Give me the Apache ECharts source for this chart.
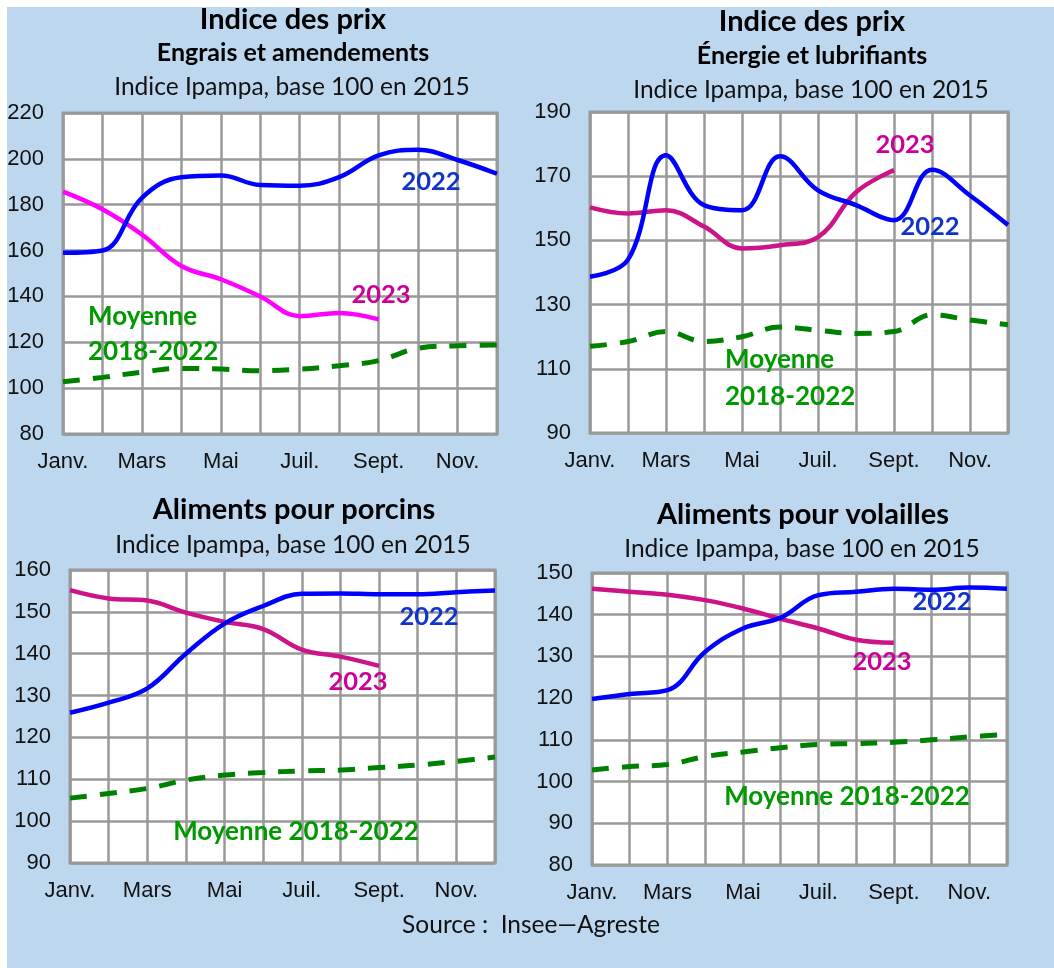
<!DOCTYPE html>
<html>
<head>
<meta charset="utf-8">
<script src="https://cdn.jsdelivr.net/npm/echarts@6/dist/echarts.min.js"></script>
<style>
html,body{margin:0;padding:0;background:#fff;}
#c{width:1054px;height:968px;}
</style>
</head>
<body>
<div id="c"></div>
<script>
const months = ['Janv.','Févr.','Mars','Avril','Mai','Juin','Juil.','Août','Sept.','Oct.','Nov.','Déc.'];

const engrais2022 = [159, 160, 183, 192, 192.7, 188.6, 188.3, 192, 201.5, 204, 199.5, 193.5];
const engrais2023 = [185.7, 178, 167, 153.3, 147.5, 140, 131.4, 132.8, 130];
const engraisMoy  = [102.8, 104.7, 107, 108.6, 108.3, 107.6, 108.3, 109.8, 112, 117.4, 118.5, 118.8];

const energie2022 = [138.7, 144, 176.5, 161, 159.4, 176.2, 165.6, 161, 156.3, 172, 164, 154.8];
const energie2023 = [160.3, 158.4, 159.4, 154.3, 147.5, 148.5, 151, 165, 171.9];
const energieMoy  = [117, 118.5, 121.6, 118.5, 120, 123, 122, 121, 121.6, 126.8, 125.2, 123.7];

const porcins2022 = [125.9, 128.3, 131.7, 140, 147.2, 151.4, 154.3, 154.4, 154.2, 154.2, 154.7, 155.1];
const porcins2023 = [155.2, 153.2, 152.7, 149.8, 147.6, 145.9, 141, 139.3, 137.1];
const porcinsMoy  = [105.5, 106.6, 107.8, 109.8, 111, 111.6, 112, 112.2, 112.8, 113.4, 114.3, 115.3];

const volailles2022 = [119.8, 121, 121.9, 131.1, 136.7, 139.3, 144.7, 145.5, 146.2, 146, 146.5, 146.2];
const volailles2023 = [146.2, 145.5, 144.8, 143.5, 141.5, 139, 136.7, 134, 133.3];
const volaillesMoy  = [102.8, 103.6, 104.1, 106, 107.1, 108.1, 108.9, 109.1, 109.4, 110, 110.7, 111.3];

const yRanges = [
  {min: 80, max: 220, interval: 20},
  {min: 90, max: 190, interval: 20},
  {min: 90, max: 160, interval: 10},
  {min: 80, max: 150, interval: 10}
];

const BLUE = '#0000FF', MAG1 = '#FF00FF', MAG = '#CC1488', GREEN = '#008000';
const TXT_BLUE = '#1133CC', TXT_MAG = '#CC0099', TXT_GREEN = '#009900';
const GRIDC = '#999999';
const TFONT = 'Lato, "Open Sans", sans-serif';
const AFONT = '"Liberation Sans", Arial, sans-serif';

const grids = [
  {left: 63, top: 113, width: 434, height: 321},
  {left: 590, top: 112, width: 418, height: 321},
  {left: 70, top: 570, width: 425, height: 293},
  {left: 592, top: 573, width: 415, height: 292}
].map(g => Object.assign({show: true, backgroundColor: '#fff', borderColor: GRIDC, borderWidth: 3, containLabel: false}, g));

const xAxes = grids.map((g, i) => ({
  type: 'category', gridIndex: i, data: months, boundaryGap: false,
  axisLine: {show: false}, axisTick: {show: false},
  axisLabel: {interval: 1, fontFamily: AFONT, fontSize: 22, color: '#111', margin: 17},
  splitLine: {show: true, interval: 0, lineStyle: {color: GRIDC, width: 2.5}}
}));

const yAxes = yRanges.map((r, i) => ({
  type: 'value', gridIndex: i, min: r.min, max: r.max, interval: r.interval,
  axisLine: {show: false}, axisTick: {show: false},
  axisLabel: {fontFamily: AFONT, fontSize: 22, color: '#111', margin: 19},
  splitLine: {show: true, lineStyle: {color: GRIDC, width: 2.5}}
}));

function line(data, idx, color, dashed, smooth) {
  return {
    type: 'line', xAxisIndex: idx, yAxisIndex: idx, data: data,
    smooth: smooth, symbol: 'none', silent: true,
    lineStyle: dashed ? {color: color, width: 5, type: [17, 13]} : {color: color, width: 4.5}
  };
}

const series = [
  line(engraisMoy, 0, GREEN, true, 0.4),
  line(engrais2023, 0, MAG1, false, 0.4),
  line(engrais2022, 0, BLUE, false, 0.4),
  line(energieMoy, 1, GREEN, true, 0.4),
  line(energie2023, 1, MAG, false, 0.4),
  line(energie2022, 1, BLUE, false, 0.4),
  line(porcinsMoy, 2, GREEN, true, 0.4),
  line(porcins2023, 2, MAG, false, 0.4),
  line(porcins2022, 2, BLUE, false, 0.4),
  line(volaillesMoy, 3, GREEN, true, 0.4),
  line(volailles2023, 3, MAG, false, 0.4),
  line(volailles2022, 3, BLUE, false, 0.4)
];

function txt(x, y, text, size, weight, color, align) {
  return {type: 'text', x: x, y: y, z: 100, silent: true,
    style: {text: text, fontFamily: TFONT, fontSize: size, fontWeight: weight, fill: color,
      textAlign: align || 'center', textVerticalAlign: 'middle'}};
}

const T1 = 29, T2 = 25, T3 = 24.5, LS = 25.5, LM = 26;

const graphics = [
  {type: 'rect', shape: {x: 7, y: 7, width: 1047, height: 961}, style: {fill: '#BDD7EE'}, z: -10, silent: true},
  // titles panel 1
  txt(293, 20, 'Indice des prix', T1, 'bold', '#000'),
  txt(293, 53, 'Engrais et amendements', T2, 'bold', '#000'),
  txt(292, 87, 'Indice Ipampa, base 100 en 2015', T3, 'normal', '#111'),
  // panel 2
  txt(812, 22, 'Indice des prix', T1, 'bold', '#000'),
  txt(812, 56, 'Énergie et lubrifiants', T2, 'bold', '#000'),
  txt(811, 90, 'Indice Ipampa, base 100 en 2015', T3, 'normal', '#111'),
  // panel 3
  txt(294, 510, 'Aliments pour porcins', T1, 'bold', '#000'),
  txt(293, 545, 'Indice Ipampa, base 100 en 2015', T3, 'normal', '#111'),
  // panel 4
  txt(803, 515, 'Aliments pour volailles', T1, 'bold', '#000'),
  txt(802, 549, 'Indice Ipampa, base 100 en 2015', T3, 'normal', '#111'),
  // source
  txt(531, 925, 'Source :  Insee\u2014Agreste', T3, 'normal', '#111'),
  // series labels panel 1
  txt(431, 182, '2022', LS, 'bold', TXT_BLUE),
  txt(381, 295, '2023', LS, 'bold', TXT_MAG),
  txt(88, 317, 'Moyenne', LM, 'bold', TXT_GREEN, 'left'),
  txt(88, 352, '2018-2022', LM, 'bold', TXT_GREEN, 'left'),
  // panel 2
  txt(905, 145, '2023', LS, 'bold', TXT_MAG),
  txt(930, 227, '2022', LS, 'bold', TXT_BLUE),
  txt(725, 360, 'Moyenne', LM, 'bold', TXT_GREEN, 'left'),
  txt(725, 397, '2018-2022', LM, 'bold', TXT_GREEN, 'left'),
  // panel 3
  txt(429, 617, '2022', LS, 'bold', TXT_BLUE),
  txt(358, 682, '2023', LS, 'bold', TXT_MAG),
  txt(296, 832, 'Moyenne 2018-2022', LM, 'bold', TXT_GREEN),
  // panel 4
  txt(942, 602, '2022', LS, 'bold', TXT_BLUE),
  txt(882, 662, '2023', LS, 'bold', TXT_MAG),
  txt(847, 797, 'Moyenne 2018-2022', LM, 'bold', TXT_GREEN)
];

const chart = echarts.init(document.getElementById('c'), null, {renderer: 'canvas'});
chart.setOption({
  animation: false,
  backgroundColor: '#fff',
  grid: grids,
  xAxis: xAxes,
  yAxis: yAxes,
  series: series,
  graphic: graphics
});
</script>
</body>
</html>
